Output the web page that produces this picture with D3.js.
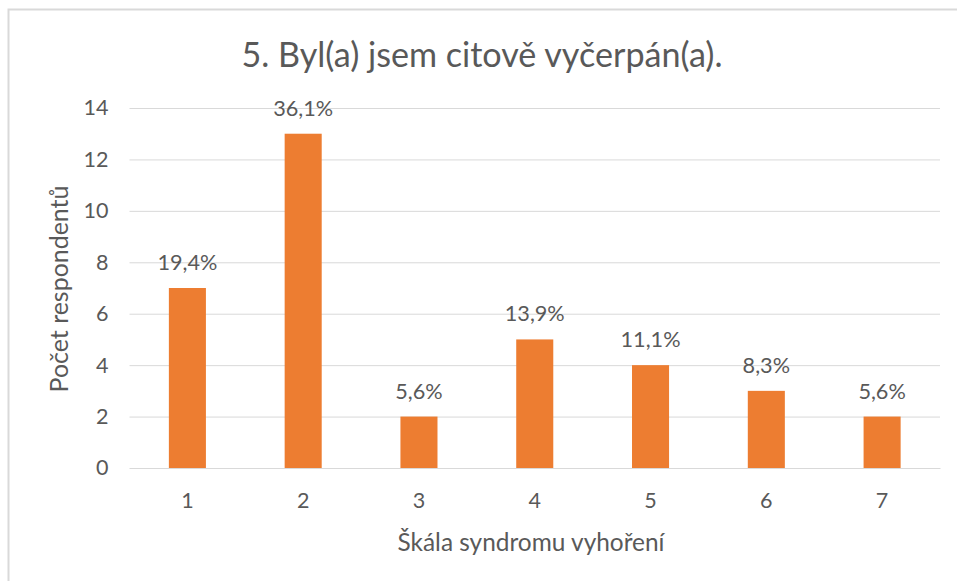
<!DOCTYPE html>
<html><head><meta charset="utf-8">
<script src="https://cdn.jsdelivr.net/npm/d3@7"></script>
<style>html,body{margin:0;padding:0;background:#fff;}svg{display:block;font-family:Lato,"Open Sans",sans-serif;}</style>
</head><body>
<svg id="c" width="957" height="581"></svg>
<script>
const categories = ["1","2","3","4","5","6","7"];
const values = [7, 13, 2, 5, 4, 3, 2];
const labels = ["19,4%","36,1%","5,6%","13,9%","11,1%","8,3%","5,6%"];
const yTicks = [0,2,4,6,8,10,12,14];
const titleText = "5. Byl(a) jsem citově vyčerpán(a).";
const xTitle = "Škála syndromu vyhoření";
const yTitle = "Počet respondentů";

const svg = d3.select("#c");
const W = 957, H = 581;
const plot = {left:129.5, right:940, top:108, bottom:468};
const txt = "#595959";
const FF = "Lato,'Open Sans',sans-serif";

svg.append("rect").attr("x",8.5).attr("y",9.5).attr("width",W).attr("height",H)
  .attr("fill","#fff").attr("stroke","#d9d9d9").attr("stroke-width",2);

// measure a label font size so digits match reference widths
const probe = svg.append("text").attr("font-size",20).attr("font-family",FF).text("36,1%");
const labelFs = 20*60/probe.node().getComputedTextLength();
probe.text("14");
const tickFs = 20*25/probe.node().getComputedTextLength();
probe.remove();

const x = d3.scaleBand().domain(categories).range([plot.left, plot.right]).paddingInner(0.68).paddingOuter(0.34);
const y = d3.scaleLinear().domain([0,14]).range([plot.bottom, plot.top]);

const gy = svg.append("g").attr("transform",`translate(${plot.left},0)`)
  .call(d3.axisLeft(y).tickValues(yTicks).tickSize(-(plot.right-plot.left)).tickPadding(21));
gy.select(".domain").remove();
gy.selectAll(".tick line").attr("stroke","#d9d9d9").attr("stroke-width",1);
gy.selectAll(".tick text").attr("fill",txt).attr("font-size",tickFs).attr("font-family",FF);

svg.append("g").selectAll("rect").data(values).join("rect")
  .attr("x",(d,i)=>x(categories[i])).attr("width",x.bandwidth())
  .attr("y",d=>y(d)).attr("height",d=>y(0)-y(d)).attr("fill","#ED7D31");

const gx = svg.append("g").attr("transform",`translate(0,${plot.bottom})`)
  .call(d3.axisBottom(x).tickSize(0).tickPadding(25));
gx.select(".domain").attr("stroke","#d9d9d9").attr("stroke-width",1.2);
gx.selectAll(".tick text").attr("fill",txt).attr("font-size",tickFs).attr("font-family",FF);

svg.append("g").selectAll("text").data(values).join("text")
  .attr("x",(d,i)=>x(categories[i])+x.bandwidth()/2).attr("y",d=>y(d)-18)
  .attr("text-anchor","middle").attr("fill",txt).attr("font-size",labelFs).text((d,i)=>labels[i]);

function fit(sel, target){
  const n = sel.node(); let fs = +sel.attr("font-size");
  const w = n.getComputedTextLength();
  if (w>0) sel.attr("font-size", fs*target/w);
}

const t = svg.append("text").attr("x",482).attr("y",67).attr("text-anchor","middle")
  .attr("fill",txt).attr("font-size",26).text(titleText);
fit(t, 481);

const xt = svg.append("text").attr("x",531).attr("y",551).attr("text-anchor","middle")
  .attr("fill",txt).attr("font-size",18).text(xTitle);
fit(xt, 267);

const yt = svg.append("text").attr("transform","translate(68,289) rotate(-90)").attr("text-anchor","middle")
  .attr("fill",txt).attr("font-size",18).text(yTitle);
fit(yt, 207);
</script>
</body></html>
